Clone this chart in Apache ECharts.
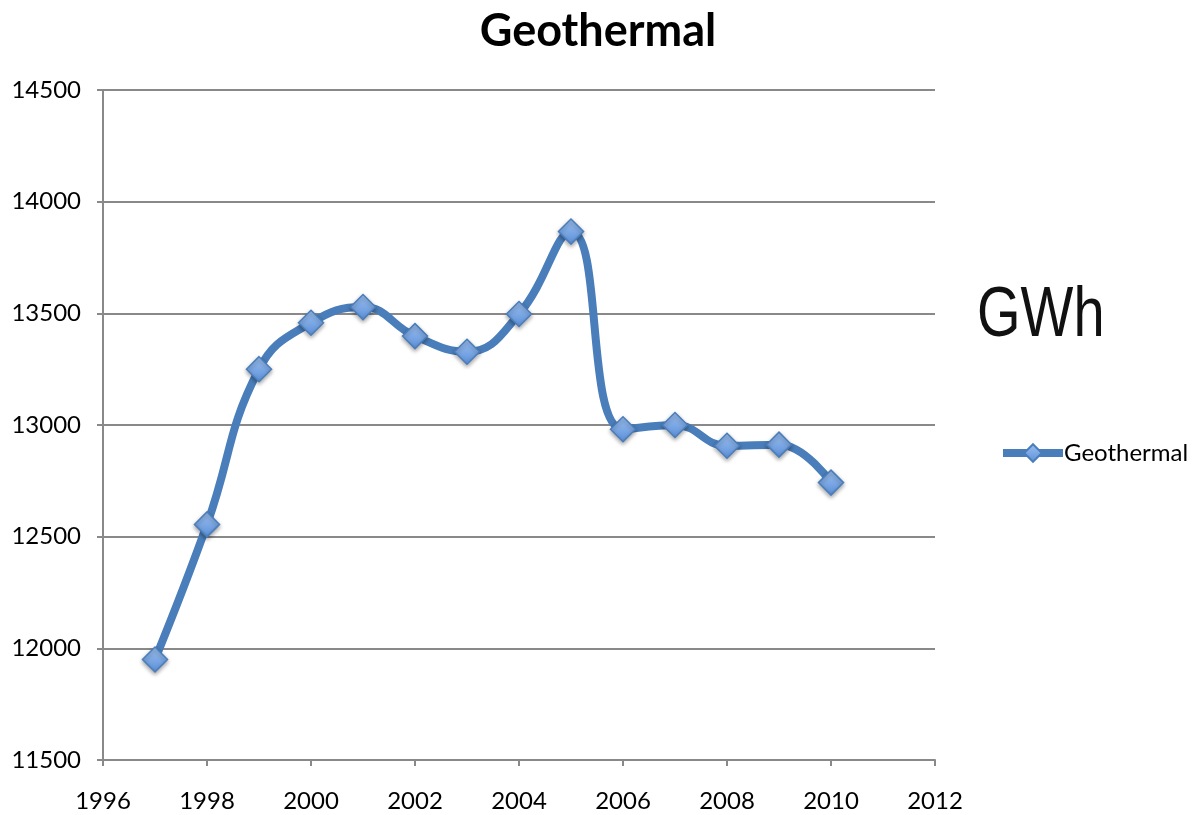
<!DOCTYPE html>
<html>
<head>
<meta charset="utf-8">
<script src="https://cdn.jsdelivr.net/npm/echarts@6/dist/echarts.min.js"></script>
<style>
  html, body { margin: 0; padding: 0; background: #fff; }
  #chart { width: 1196px; height: 815px; }
</style>
</head>
<body>
<div id="chart"></div>
<script>
// data
var years = [1997, 1998, 1999, 2000, 2001, 2002, 2003, 2004, 2005, 2006, 2007, 2008, 2009, 2010];
var geothermal = [11950, 12555, 13250, 13458, 13528, 13398, 13328, 13497, 13866, 12981, 13000, 12907, 12912, 12742];
var seriesName = 'Geothermal';
var unitLabel = 'GWh';

var points = [];
for (var i = 0; i < years.length; i++) {
    points.push([years[i], geothermal[i]]);
}

var font = 'Lato, "Open Sans", sans-serif';
var gridColor = '#898989';
var lineBlue = '#4a7ebb';

var chart = echarts.init(document.getElementById('chart'));
chart.setOption({
    animation: false,
    title: {
        text: 'Geothermal',
        left: 'center',
        top: 4,
        textStyle: { fontFamily: font, fontWeight: 'bold', fontSize: 45, color: '#000' }
    },
    // unit label, slightly condensed like the original
    graphic: [{
        type: 'text',
        x: 977,
        y: 282,
        scaleX: 0.8,
        style: {
            text: unitLabel,
            fontFamily: '"Liberation Sans", Arial, sans-serif',
            fontSize: 70,
            fill: '#111',
            verticalAlign: 'top'
        }
    }],
    legend: {
        left: 999,
        top: 441,
        padding: 0,
        itemWidth: 60,
        itemHeight: 22,
        itemGap: 0,
        lineStyle: { width: 8 },
        textStyle: { fontFamily: font, fontSize: 24, color: '#000', padding: [0, 0, 0, -4] },
        data: [seriesName]
    },
    grid: {
        left: 103,
        right: 261,
        top: 90,
        bottom: 55,
        containLabel: false
    },
    xAxis: {
        type: 'value',
        min: 1996,
        max: 2012,
        interval: 2,
        axisLine: { show: true, onZero: false, lineStyle: { color: gridColor, width: 2 } },
        axisTick: { show: true, length: 6, lineStyle: { color: gridColor, width: 2 } },
        axisLabel: { fontFamily: font, fontSize: 24, color: '#000', margin: 29, formatter: function (v) { return String(v); } },
        splitLine: { show: false }
    },
    yAxis: {
        type: 'value',
        min: 11500,
        max: 14500,
        interval: 500,
        axisLine: { show: true, lineStyle: { color: gridColor, width: 2 } },
        axisTick: { show: true, length: 6, lineStyle: { color: gridColor, width: 2 } },
        axisLabel: { fontFamily: font, fontSize: 24, color: '#000', margin: 22, formatter: function (v) { return String(v); } },
        splitLine: { show: true, lineStyle: { color: gridColor, width: 2 } }
    },
    series: [{
        name: seriesName,
        type: 'line',
        data: points,
        smooth: 0.45,
        symbol: 'diamond',
        symbolSize: 25,
        lineStyle: { color: lineBlue, width: 8 },
        itemStyle: {
            color: {
                type: 'linear', x: 0, y: 0, x2: 0, y2: 1,
                colorStops: [{ offset: 0, color: '#9dc0ee' }, { offset: 1, color: '#5b90da' }]
            },
            borderColor: lineBlue,
            borderWidth: 1.5,
            shadowColor: 'rgba(0,0,0,0.35)',
            shadowBlur: 4,
            shadowOffsetY: 2
        },
        z: 3
    }]
});
</script>
</body>
</html>
